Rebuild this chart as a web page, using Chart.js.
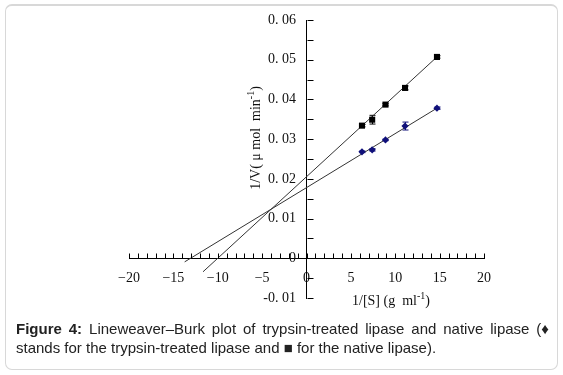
<!DOCTYPE html>
<html>
<head>
<meta charset="utf-8">
<script src="https://cdn.jsdelivr.net/npm/chart.js@4.4.1/dist/chart.umd.min.js"></script>
<style>
  html, body { margin: 0; padding: 0; background: #fff; }
  #wrap { position: relative; width: 563px; height: 375px; overflow: hidden; }
  #frame { position: absolute; left: 5px; top: 4px; width: 551px; height: 363px; border: 1px solid #d8d8d8; border-top-width: 2px; border-radius: 7px; pointer-events: none; }
  #plot { position: absolute; left: 0; top: 0; }
  #caption { position: absolute; left: 16px; top: 319px; width: 533px; font: 15px "Liberation Sans", Arial, sans-serif; line-height: 19px; color: #222; }
  #caption .l1 { display: block; text-align: justify; text-align-last: justify; text-justify: inter-word; }
  #caption .l2 { display: block; }
  #caption .nw { display: inline-block; white-space: nowrap; }
</style>
</head>
<body>
<div id="wrap">
  <canvas id="plot" width="563" height="375"></canvas>
  <div id="frame"></div>
  <div id="caption"><span class="l1"><b>Figure 4:</b> Lineweaver–Burk plot of trypsin-treated lipase and native lipase <span class="nw">(♦</span></span><span class="l2">stands for the trypsin-treated lipase and ■ for the native lipase).</span></div>
</div>
<script>
// 1/[S] values shared by both series
const invS = [6.25, 7.4, 8.9, 11.1, 14.7];

// native lipase (squares)
const nativeY = [0.0334, 0.0349, 0.0387, 0.0429, 0.0507];
const nativeErr = [0.0003, 0.0011, 0.0003, 0.0005, 0.0003];

// trypsin-treated lipase (diamonds)
const treatedY = [0.0268, 0.0273, 0.0298, 0.0333, 0.0378];
const treatedErr = [0.0002, 0.0003, 0.0002, 0.0010, 0.0003];

// fitted lines, read at their drawn ends
const nativeFitX = [-11.66, 14.7];
const nativeFitY = [-0.0034, 0.0507];
const treatedFitX = [-13.73, 14.7];
const treatedFitY = [-0.0009, 0.0378];

const toPoints = (xs, ys) => xs.map((v, i) => ({ x: v, y: ys[i] }));

const serif = '"Liberation Serif", "DejaVu Serif", serif';

// y labels are right aligned on the axis itself, trailing spaces keep a gap
function yLabel(v) {
    const r = Math.round(v * 100);
    if (Math.abs(v * 100 - r) > 1e-6) return '';
    if (r === 0) return '0   ';
    return (r < 0 ? '-' : '') + '0. 0' + Math.abs(r) + '   ';
}

function xLabel(v) {
    if (v % 5 !== 0) return '';
    return v < 0 ? '\u2212' + Math.abs(v) : String(v);
}

// draws text with a raised "-1" before the closing bracket
function drawWithSup(ctx, before, sup, after, x, y) {
    ctx.font = '14px ' + serif;
    const w1 = ctx.measureText(before).width;
    ctx.font = '10px ' + serif;
    const w2 = ctx.measureText(sup).width;
    ctx.font = '14px ' + serif;
    const w3 = ctx.measureText(after).width;
    let cx = x - (w1 + w2 + w3) / 2;
    ctx.textAlign = 'left';
    ctx.textBaseline = 'middle';
    ctx.fillText(before, cx, y);
    ctx.font = '10px ' + serif;
    ctx.fillText(sup, cx + w1, y - 5);
    ctx.font = '14px ' + serif;
    ctx.fillText(after, cx + w1 + w2, y);
}

const extras = {
    id: 'extras',
    beforeDatasetsDraw(chart) {
        const { ctx, scales: { x, y } } = chart;
        ctx.save();
        ctx.lineWidth = 1;
        const bars = [[nativeY, nativeErr, '#000'], [treatedY, treatedErr, '#10107a']];
        bars.forEach(([ys, errs, col]) => {
            ctx.strokeStyle = col;
            invS.forEach((v, i) => {
                const px = Math.round(x.getPixelForValue(v)) + 0.5;
                const top = y.getPixelForValue(ys[i] + errs[i]);
                const bot = y.getPixelForValue(ys[i] - errs[i]);
                ctx.beginPath();
                ctx.moveTo(px, top); ctx.lineTo(px, bot);
                ctx.moveTo(px - 3, top); ctx.lineTo(px + 3, top);
                ctx.moveTo(px - 3, bot); ctx.lineTo(px + 3, bot);
                ctx.stroke();
            });
        });
        ctx.restore();
    },
    afterDraw(chart) {
        const { ctx, scales: { x, y } } = chart;
        ctx.save();
        ctx.strokeStyle = '#000';
        ctx.lineWidth = 1;
        const x0 = Math.round(x.getPixelForValue(0)) + 0.5;
        const y0 = Math.round(y.getPixelForValue(0)) + 0.5;
        ctx.beginPath();
        // tick marks on the right of the y axis
        y.ticks.forEach(t => {
            const py = Math.round(y.getPixelForValue(t.value)) + 0.5;
            ctx.moveTo(x0, py); ctx.lineTo(x0 + 6, py);
        });
        // tick marks above the x axis
        x.ticks.forEach(t => {
            const px = Math.round(x.getPixelForValue(t.value)) + 0.5;
            ctx.moveTo(px, y0); ctx.lineTo(px, y0 - 5);
        });
        ctx.stroke();

        // axis titles
        ctx.fillStyle = '#111';
        drawWithSup(ctx, '1/[S] (g  ml', '-1', ')', 391, 301);
        ctx.translate(256, 138);
        ctx.rotate(-Math.PI / 2);
        drawWithSup(ctx, '1/V( \u03bc mol  min', '-1', ')', 0, 0);
        ctx.restore();
    }
};

new Chart(document.getElementById('plot'), {
    type: 'scatter',
    data: {
        datasets: [
            {
                label: 'native lipase',
                data: toPoints(invS, nativeY),
                pointStyle: 'rect',
                pointRadius: 4.3,
                backgroundColor: '#000',
                borderColor: '#000',
                borderWidth: 0
            },
            {
                label: 'trypsin-treated lipase',
                data: toPoints(invS, treatedY),
                pointStyle: 'rectRot',
                pointRadius: 3.6,
                backgroundColor: '#10107a',
                borderColor: '#10107a',
                borderWidth: 0
            },
            {
                label: 'native fit',
                data: toPoints(nativeFitX, nativeFitY),
                showLine: true,
                pointRadius: 0,
                borderColor: '#333',
                borderWidth: 1
            },
            {
                label: 'treated fit',
                data: toPoints(treatedFitX, treatedFitY),
                showLine: true,
                pointRadius: 0,
                borderColor: '#333',
                borderWidth: 1
            }
        ]
    },
    options: {
        responsive: false,
        animation: false,
        devicePixelRatio: 1,
        layout: { padding: { left: 129, right: 79, top: 20, bottom: 77 } },
        plugins: {
            legend: { display: false },
            tooltip: { enabled: false }
        },
        scales: {
            x: {
                type: 'linear',
                min: -20,
                max: 20,
                position: { y: 0 },
                grid: { display: false },
                border: { display: true, color: '#000', width: 1 },
                ticks: {
                    stepSize: 1,
                    autoSkip: false,
                    maxRotation: 0,
                    padding: 4,
                    color: '#111',
                    font: { family: serif, size: 14 },
                    callback: xLabel
                }
            },
            y: {
                type: 'linear',
                min: -0.01,
                max: 0.06,
                position: { x: 0 },
                grid: { display: false },
                border: { display: true, color: '#000', width: 1 },
                ticks: {
                    stepSize: 0.005,
                    autoSkip: false,
                    color: '#111',
                    font: { family: serif, size: 14 },
                    callback: yLabel
                }
            }
        }
    },
    plugins: [extras]
});
</script>
</body>
</html>
